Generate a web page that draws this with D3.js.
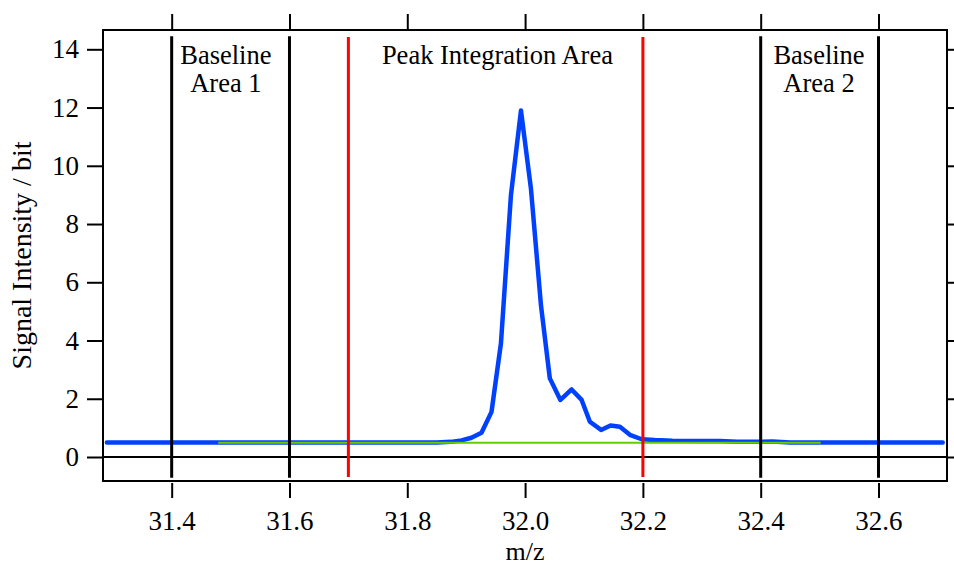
<!DOCTYPE html>
<html>
<head>
<meta charset="utf-8">
<script src="https://cdn.jsdelivr.net/npm/d3@7/dist/d3.min.js"></script>
<style>
  html, body { margin: 0; padding: 0; background: #fff; }
  svg { display: block; }
  text { font-family: "Liberation Serif", "Times New Roman", serif; fill: #000; }
</style>
</head>
<body>
<svg id="chart" width="954" height="566"></svg>
<script>
// ---- data ----
const xTicks = [31.4, 31.6, 31.8, 32.0, 32.2, 32.4, 32.6];
const yTicks = [0, 2, 4, 6, 8, 10, 12, 14];
const signalMz = [31.29, 31.45, 31.6, 31.75, 31.85, 31.874, 31.892, 31.909, 31.926, 31.943, 31.959, 31.976, 31.993,
  32.010, 32.027, 32.042, 32.060, 32.079, 32.096, 32.110, 32.129, 32.145, 32.161, 32.179, 32.198,
  32.22, 32.25, 32.30, 32.33, 32.36, 32.40, 32.42, 32.45, 32.55, 32.709];
const signalValues = [0.5, 0.5, 0.5, 0.5, 0.5, 0.52, 0.57, 0.66, 0.83, 1.55, 3.9, 9.0, 11.9,
  9.2, 5.2, 2.7, 1.96, 2.32, 1.96, 1.21, 0.93, 1.08, 1.04, 0.75, 0.61,
  0.58, 0.56, 0.55, 0.55, 0.52, 0.52, 0.53, 0.5, 0.5, 0.5];
const baselineMz = [31.479, 32.502];
const baselineValues = [0.49, 0.49];
const baselineMarkers = [31.4, 31.6, 32.4, 32.6];
const peakMarkers = [31.7, 32.2];
const regionLabels = [
  { lines: ["Baseline", "Area 1"], mz: 31.492 },
  { lines: ["Peak Integration Area"], mz: 31.953 },
  { lines: ["Baseline", "Area 2"], mz: 32.499 }
];
const xTitle = "m/z";
const yTitle = "Signal Intensity / bit";

// ---- layout ----
const svg = d3.select("#chart");
const L = 103, R = 947, T = 30, B = 481;
const x = d3.scaleLinear().domain([31.2834, 32.7163]).range([L, R]);
const y = d3.scaleLinear().domain([-0.824, 14.663]).range([B, T]);
const FS = 27;

// curve
const signal = signalMz.map((m, i) => [m, signalValues[i]]);
const line = d3.line().x(d => x(d[0])).y(d => y(d[1]));
svg.append("path").datum(signal).attr("d", line)
  .attr("fill", "none").attr("stroke", "#0040ff").attr("stroke-width", 4.5)
  .attr("stroke-linejoin", "round").attr("stroke-linecap", "round");

const base = baselineMz.map((m, i) => [m, baselineValues[i]]);
svg.append("path").datum(base).attr("d", line)
  .attr("fill", "none").attr("stroke", "#66cc00").attr("stroke-width", 2);

// zero line
svg.append("line").attr("x1", L).attr("x2", R).attr("y1", y(0)).attr("y2", y(0))
  .attr("stroke", "#000").attr("stroke-width", 2);

// vertical markers
svg.selectAll("line.bm").data(baselineMarkers).enter().append("line")
  .attr("x1", d => x(d)).attr("x2", d => x(d)).attr("y1", y(14.45)).attr("y2", y(-0.71))
  .attr("stroke", "#000").attr("stroke-width", 3);
svg.selectAll("line.pm").data(peakMarkers).enter().append("line")
  .attr("x1", d => x(d)).attr("x2", d => x(d)).attr("y1", y(14.42)).attr("y2", y(-0.69))
  .attr("stroke", "#ff0000").attr("stroke-width", 3);

// region labels
regionLabels.forEach(r => {
  const t = svg.append("text").attr("text-anchor", "middle").attr("font-size", 26.5);
  r.lines.forEach((s, i) => {
    t.append("tspan").attr("x", x(r.mz)).attr("y", 64 + i * 28).text(s);
  });
});

// axes
const axB = d3.axisBottom(x).tickValues(xTicks).tickFormat(d3.format(".1f")).tickSize(15).tickPadding(13);
const axT = d3.axisTop(x).tickValues(xTicks).tickFormat("").tickSize(16);
const axL = d3.axisLeft(y).tickValues(yTicks).tickFormat(d3.format("d")).tickSize(16).tickPadding(8);
const axR = d3.axisRight(y).tickValues(yTicks).tickFormat("").tickSize(16);

function styleAxis(g) {
  g.select(".domain").remove();
  g.selectAll(".tick line").attr("stroke", "#000").attr("stroke-width", 2);
  g.selectAll(".tick text").attr("font-size", FS).attr("font-family", "Liberation Serif").attr("fill", "#000");
}
svg.append("g").attr("transform", `translate(0,${B + 2})`).call(axB).call(styleAxis);
svg.append("g").attr("transform", `translate(0,${T})`).call(axT).call(styleAxis);
svg.append("g").attr("transform", `translate(${L},0)`).call(axL).call(styleAxis);
svg.append("g").attr("transform", `translate(${R},0)`).call(axR).call(styleAxis);

// frame
svg.append("rect").attr("x", L).attr("y", T).attr("width", R - L).attr("height", B - T)
  .attr("fill", "none").attr("stroke", "#000").attr("stroke-width", 2);

// titles
svg.append("text").attr("x", x(32.0)).attr("y", 560).attr("text-anchor", "middle")
  .attr("font-size", 26).text(xTitle);
svg.append("text").attr("transform", `translate(31,${(T + B) / 2}) rotate(-90)`)
  .attr("text-anchor", "middle").attr("font-size", 28).text(yTitle);
</script>
</body>
</html>
